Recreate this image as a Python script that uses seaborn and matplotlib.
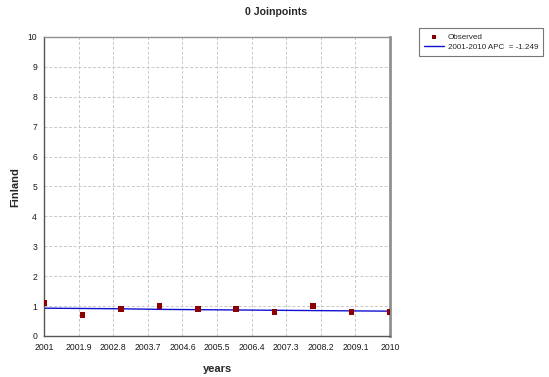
import numpy as np
import pandas as pd
import seaborn as sns
import matplotlib.pyplot as plt

years = [2001, 2002, 2003, 2004, 2005, 2006, 2007, 2008, 2009, 2010]
observed = [1.1, 0.7, 0.9, 1.0, 0.9, 0.9, 0.8, 1.0, 0.8, 0.8]
fitted = [0.93, 0.92, 0.91, 0.89, 0.88, 0.87, 0.86, 0.85, 0.84, 0.83]
xticks = [2001, 2001.9, 2002.8, 2003.7, 2004.6, 2005.5, 2006.4, 2007.3, 2008.2, 2009.1, 2010]

df = pd.DataFrame({"years": years, "Observed": observed, "Fitted": fitted})

sns.set_style("white")
plt.rcParams["font.family"] = ["Liberation Sans", "DejaVu Sans"]

fig = plt.figure(figsize=(5.49, 3.77), dpi=100)
ax = fig.add_axes([0.0801, 0.1088, 0.6303, 0.7931])

ax.grid(True, color="#c8c8c8", linestyle=(0, (3, 2)), linewidth=0.7)
ax.set_axisbelow(True)

sns.lineplot(data=df, x="years", y="Fitted", ax=ax, color="#1010d0", linewidth=1.0,
             label="2001-2010 APC  = -1.249")
sns.scatterplot(data=df, x="years", y="Observed", ax=ax, marker="s", color="#8b0000",
                s=16, edgecolor="none", label="Observed", zorder=5)

ax.set_xlim(2001, 2010)
ax.set_ylim(0, 10)
ax.set_xticks(xticks)
ax.set_xticklabels([str(t) for t in xticks])
ax.set_yticks(range(0, 11))
ax.tick_params(axis="both", labelsize=6.2, length=2, pad=3, color="#555555", labelcolor="#1a1a1a")

for side in ["left", "bottom"]:
    ax.spines[side].set_color("#555555")
    ax.spines[side].set_linewidth(1.0)
ax.spines["top"].set_color("#909090")
ax.spines["top"].set_linewidth(1.0)
ax.spines["right"].set_color("#909090")
ax.spines["right"].set_linewidth(2.0)

bold = dict(fontweight="bold")
ax.set_xlabel("years", fontsize=8, labelpad=9, **bold)
ax.set_ylabel("")
fig.text(15 / 549, 1 - 187 / 377, "Finland", rotation=90, ha="center", va="center",
         fontsize=8, **bold)
fig.suptitle("0 Joinpoints", x=0.503, y=0.968, va="center", fontsize=7.6, **bold)

handles, labels = ax.get_legend_handles_labels()
order = [labels.index("Observed"), labels.index("2001-2010 APC  = -1.249")]
leg = ax.legend([handles[i] for i in order], [labels[i] for i in order],
                loc="upper left", bbox_to_anchor=(419 / 549, 1 - 28 / 377), bbox_transform=fig.transFigure,
                fontsize=5.8, frameon=True, fancybox=False, edgecolor="#555555",
                handlelength=2.4, handletextpad=0.5, borderpad=0.65, labelspacing=0.28,
                borderaxespad=0, markerscale=0.7)
leg.get_frame().set_linewidth(0.8)

fig.savefig("out.png", dpi=100)
